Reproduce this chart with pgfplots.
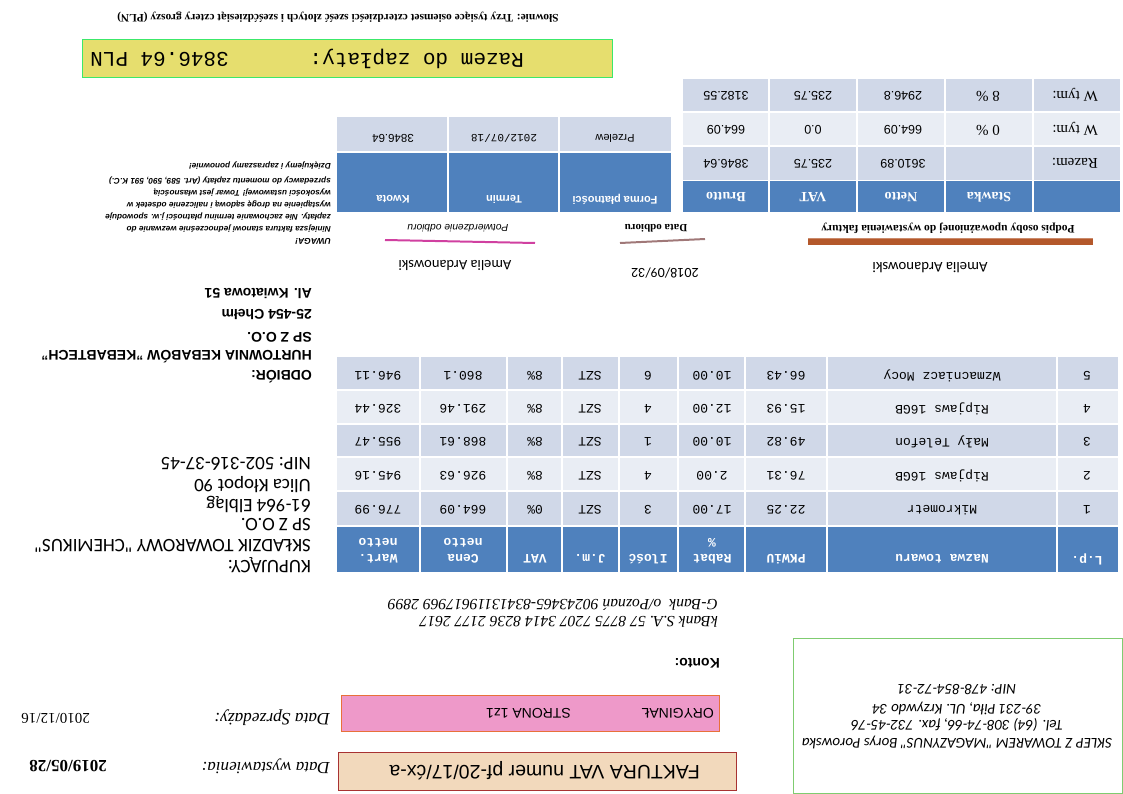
\documentclass[border=0pt]{standalone}
\usepackage{pgfplots}
\pgfplotsset{compat=1.18}
\usepackage{fontspec}
\setmainfont{Liberation Serif}
\setsansfont{Liberation Sans}
\setmonofont{Liberation Mono}
\newfontfamily\carl{Carlito}
\newcommand{\fs}[1]{\fontsize{#1bp}{#1bp}\selectfont}
\definecolor{hdr}{HTML}{4F81BD}
\definecolor{rowd}{HTML}{D0D8E8}
\definecolor{rowl}{HTML}{E9EDF4}
\definecolor{yel}{HTML}{E6DE6E}
\definecolor{grnb}{HTML}{3CE86A}
\definecolor{grnbox}{HTML}{7FCC70}
\definecolor{pinkc}{HTML}{EE99C9}
\definecolor{orgb}{HTML}{E8703A}
\definecolor{beigec}{HTML}{F2D9BC}
\definecolor{redb}{HTML}{A83232}
\definecolor{brownc}{HTML}{B4582B}
\definecolor{magl}{HTML}{D040A0}
\definecolor{greyl}{HTML}{A07878}
% text helpers: #1 font, #2 x, #3 y, #4 text  (rotated 180 degrees)
\newcommand{\TL}[4]{\node[rotate=180,anchor=west,inner sep=0pt,font=#1] at (axis cs:#2,#3) {#4};}
\newcommand{\TC}[4]{\node[rotate=180,anchor=center,inner sep=0pt,font=#1] at (axis cs:#2,#3) {#4};}
\newcommand{\TR}[4]{\node[rotate=180,anchor=east,inner sep=0pt,font=#1] at (axis cs:#2,#3) {#4};}
\begin{document}
\begin{tikzpicture}
\useasboundingbox (0,0) rectangle (1123bp,794bp);
\fill[white] (0,0) rectangle (1123bp,794bp);
\begin{axis}[hide axis, scale only axis, width=1123bp, height=794bp,
  xmin=0, xmax=1123, ymin=0, ymax=794, y dir=reverse, clip=false,
  at={(0,0)}, anchor=south west]

% ---------- top: słownie + razem do zapłaty
\TC{\bfseries\fs{11.4}}{338}{17}{Słownie: Trzy tysiące osiemset czterdzieści sześć złotych i sześćdziesiąt cztery groszy (PLN)}
\filldraw[fill=yel, draw=grnb, line width=1pt] (axis cs:82,40) rectangle (axis cs:612,77);
\TL{\ttfamily\fs{21}}{524}{59}{Razem do zapłaty:}
\TR{\ttfamily\fs{21}}{90}{59}{3846.64 PLN}

% ---------- summary table
\fill[rowd] (axis cs:683,79) rectangle (axis cs:1120,112);
\fill[rowl] (axis cs:683,112) rectangle (axis cs:1120,146);
\fill[rowd] (axis cs:683,146) rectangle (axis cs:1120,180);
\fill[hdr] (axis cs:683,181) rectangle (axis cs:1120,212);
\draw[white, line width=1.3pt] (axis cs:683,112) -- (axis cs:1120,112);
\draw[white, line width=1.3pt] (axis cs:683,146) -- (axis cs:1120,146);
\draw[white, line width=1.8pt] (axis cs:683,180.5) -- (axis cs:1120,180.5);
\draw[white, line width=1.3pt] (axis cs:769,79) -- (axis cs:769,212);
\draw[white, line width=1.3pt] (axis cs:857,79) -- (axis cs:857,212);
\draw[white, line width=1.3pt] (axis cs:945,79) -- (axis cs:945,212);
\draw[white, line width=1.3pt] (axis cs:1033,79) -- (axis cs:1033,212);
\TC{\bfseries\color{white}\fs{14}}{989}{197}{Stawka}
\TC{\bfseries\color{white}\fs{14}}{901}{197}{Netto}
\TC{\bfseries\color{white}\fs{14}}{813}{197}{VAT}
\TC{\bfseries\color{white}\fs{14}}{726}{197}{Brutto}
\TL{\fs{15}}{1098}{163}{Razem:}
\TC{\sffamily\fs{12.5}}{903}{164}{3610.89}
\TC{\sffamily\fs{12.5}}{813}{164}{235.75}
\TC{\sffamily\fs{12.5}}{726}{164}{3846.64}
\TL{\fs{15}}{1098}{129}{W tym:}
\TC{\fs{15}}{988}{130}{0 \%}
\TC{\sffamily\fs{12.5}}{903}{130}{664.09}
\TC{\sffamily\fs{12.5}}{813}{130}{0.0}
\TC{\sffamily\fs{12.5}}{726}{130}{664.09}
\TL{\fs{15}}{1098}{95}{W tym:}
\TC{\fs{15}}{988}{96}{8 \%}
\TC{\sffamily\fs{12.5}}{903}{96}{2946.8}
\TC{\sffamily\fs{12.5}}{813}{96}{235.75}
\TC{\sffamily\fs{12.5}}{726}{96}{3182.55}

% ---------- payment table
\fill[rowd] (axis cs:337,117) rectangle (axis cs:671,151);
\fill[hdr] (axis cs:337,153) rectangle (axis cs:671,212);
\draw[white, line width=1.3pt] (axis cs:448,117) -- (axis cs:448,212);
\draw[white, line width=1.3pt] (axis cs:559,117) -- (axis cs:559,212);
\TC{\sffamily\bfseries\color{white}\fs{11}}{615}{199}{Forma płatności}
\TC{\sffamily\bfseries\color{white}\fs{11}}{504}{199}{Termin}
\TC{\sffamily\bfseries\color{white}\fs{11}}{393}{199}{Kwota}
\TC{\sffamily\fs{11}}{615}{138}{Przelew}
\TC{\ttfamily\fs{11}}{504}{138}{2012/07/18}
\TC{\sffamily\fs{11.5}}{393}{138}{3846.64}

% ---------- UWAGA
\TL{\sffamily\bfseries\itshape\fs{8.5}}{331}{241}{UWAGA!}
\TL{\sffamily\bfseries\itshape\fs{8.2}}{331}{229}{Niniejsza faktura stanowi jednocześnie wezwanie do}
\TL{\sffamily\bfseries\itshape\fs{8.2}}{331}{217}{zapłaty. Nie zachowanie terminu płatności j.w. spowoduje}
\TL{\sffamily\bfseries\itshape\fs{8.2}}{331}{205}{wystąpienie na drogę sądową i naliczenie odsetek w}
\TL{\sffamily\bfseries\itshape\fs{8.2}}{331}{193}{wysokości ustawowej! Towar jest własnością}
\TL{\sffamily\bfseries\itshape\fs{8.2}}{331}{181}{sprzedawcy do momentu zapłaty (Art. 589, 590, 591 K.C.)}
\TL{\sffamily\bfseries\itshape\fs{8.2}}{331}{166}{Dziękujemy i zapraszamy ponownie!}

% ---------- signatures
\TC{\bfseries\fs{11.5}}{948}{228}{Podpis osoby upoważnionej do wystawienia faktury}
\fill[brownc] (axis cs:808,238) rectangle (axis cs:1093,245);
\draw[brownc!70!white, line width=1pt] (axis cs:808,238.5) -- (axis cs:1093,238.5);
\TC{\bfseries\fs{11}}{656}{228}{Data odbioru}
\draw[greyl, line width=2pt] (axis cs:620,243) -- (axis cs:705,239);
\TC{\sffamily\itshape\fs{10.2}}{458}{228}{Potwierdzenie odbioru}
\draw[magl, line width=2pt] (axis cs:385,240) -- (axis cs:535,243);
\TC{\carl\fs{14.8}}{930}{268}{Amelia Ardanowski}
\TC{\carl\fs{14}}{665}{273}{2018/09/32}
\TC{\carl\fs{14.5}}{455}{265}{Amelia Ardanowski}

% ---------- odbiorca
\TL{\sffamily\bfseries\fs{14}}{312}{377}{ODBIÓR:}
\TL{\sffamily\bfseries\fs{14}}{312}{357}{HURTOWNIA KEBABÓW "KEBABTECH"}
\TL{\sffamily\bfseries\fs{14}}{312}{337}{SP Z O.O.}
\TL{\sffamily\bfseries\fs{14}}{312}{315}{25-454 Chełm}
\TL{\sffamily\bfseries\fs{14}}{312}{294}{Al. Kwiatowa 51}

% ---------- main items table
\fill[rowd] (axis cs:337,357) rectangle (axis cs:1118,390);
\fill[rowl] (axis cs:337,390) rectangle (axis cs:1118,424);
\fill[rowd] (axis cs:337,424) rectangle (axis cs:1118,457);
\fill[rowl] (axis cs:337,457) rectangle (axis cs:1118,491);
\fill[rowd] (axis cs:337,491) rectangle (axis cs:1118,525);
\fill[hdr] (axis cs:337,527) rectangle (axis cs:1118,572);
\draw[white, line width=1.3pt] (axis cs:337,390) -- (axis cs:1118,390);
\draw[white, line width=1.3pt] (axis cs:337,424) -- (axis cs:1118,424);
\draw[white, line width=1.3pt] (axis cs:337,457) -- (axis cs:1118,457);
\draw[white, line width=1.3pt] (axis cs:337,491) -- (axis cs:1118,491);
\draw[white, line width=1.3pt] (axis cs:420,357) -- (axis cs:420,572);
\draw[white, line width=1.3pt] (axis cs:507,357) -- (axis cs:507,572);
\draw[white, line width=1.3pt] (axis cs:562,357) -- (axis cs:562,572);
\draw[white, line width=1.3pt] (axis cs:619,357) -- (axis cs:619,572);
\draw[white, line width=1.3pt] (axis cs:678,357) -- (axis cs:678,572);
\draw[white, line width=1.3pt] (axis cs:745,357) -- (axis cs:745,572);
\draw[white, line width=1.3pt] (axis cs:827,357) -- (axis cs:827,572);
\draw[white, line width=1.3pt] (axis cs:1057,357) -- (axis cs:1057,572);
% header
\TC{\ttfamily\bfseries\color{white}\fs{13}}{1087}{559}{L.p.}
\TC{\ttfamily\bfseries\color{white}\fs{13}}{942}{559}{Nazwa towaru}
\TC{\ttfamily\bfseries\color{white}\fs{13}}{786}{559}{PKWiU}
\TC{\ttfamily\bfseries\color{white}\fs{13}}{712}{559}{Rabat}
\TC{\ttfamily\bfseries\color{white}\fs{13}}{712}{543}{\%}
\TC{\ttfamily\bfseries\color{white}\fs{13}}{648}{559}{Ilość}
\TC{\ttfamily\bfseries\color{white}\fs{13}}{590}{559}{J.m.}
\TC{\ttfamily\bfseries\color{white}\fs{13}}{535}{559}{VAT}
\TC{\ttfamily\bfseries\color{white}\fs{13}}{463}{559}{Cena}
\TC{\ttfamily\bfseries\color{white}\fs{13}}{463}{543}{netto}
\TC{\ttfamily\bfseries\color{white}\fs{13}}{378}{559}{Wart.}
\TC{\ttfamily\bfseries\color{white}\fs{13}}{378}{543}{netto}
% row 1
\TC{\ttfamily\fs{13}}{1087}{510}{1}
\TC{\ttfamily\fs{13}}{942}{510}{Mikrometr}
\TC{\ttfamily\fs{13}}{786}{510}{22.25}
\TC{\ttfamily\fs{13}}{712}{510}{17.00}
\TC{\ttfamily\fs{13}}{648}{510}{3}
\TC{\ttfamily\fs{13}}{590}{510}{SZT}
\TC{\ttfamily\fs{13}}{535}{510}{0\%}
\TC{\ttfamily\fs{13}}{463}{510}{664.09}
\TC{\ttfamily\fs{13}}{378}{510}{776.99}
% row 2
\TC{\ttfamily\fs{13}}{1087}{476}{2}
\TC{\ttfamily\fs{13}}{942}{476}{Ripjaws 16GB}
\TC{\ttfamily\fs{13}}{786}{476}{76.31}
\TC{\ttfamily\fs{13}}{712}{476}{2.00}
\TC{\ttfamily\fs{13}}{648}{476}{4}
\TC{\ttfamily\fs{13}}{590}{476}{SZT}
\TC{\ttfamily\fs{13}}{535}{476}{8\%}
\TC{\ttfamily\fs{13}}{463}{476}{926.63}
\TC{\ttfamily\fs{13}}{378}{476}{945.16}
% row 3
\TC{\ttfamily\fs{13}}{1087}{442}{3}
\TC{\ttfamily\fs{13}}{942}{442}{Mały Telefon}
\TC{\ttfamily\fs{13}}{786}{442}{49.82}
\TC{\ttfamily\fs{13}}{712}{442}{10.00}
\TC{\ttfamily\fs{13}}{648}{442}{1}
\TC{\ttfamily\fs{13}}{590}{442}{SZT}
\TC{\ttfamily\fs{13}}{535}{442}{8\%}
\TC{\ttfamily\fs{13}}{463}{442}{868.61}
\TC{\ttfamily\fs{13}}{378}{442}{955.47}
% row 4
\TC{\ttfamily\fs{13}}{1087}{409}{4}
\TC{\ttfamily\fs{13}}{942}{409}{Ripjaws 16GB}
\TC{\ttfamily\fs{13}}{786}{409}{15.93}
\TC{\ttfamily\fs{13}}{712}{409}{12.00}
\TC{\ttfamily\fs{13}}{648}{409}{4}
\TC{\ttfamily\fs{13}}{590}{409}{SZT}
\TC{\ttfamily\fs{13}}{535}{409}{8\%}
\TC{\ttfamily\fs{13}}{463}{409}{291.46}
\TC{\ttfamily\fs{13}}{378}{409}{326.44}
% row 5
\TC{\ttfamily\fs{13}}{1087}{376}{5}
\TC{\ttfamily\fs{13}}{942}{376}{Wzmacniacz Mocy}
\TC{\ttfamily\fs{13}}{786}{376}{66.43}
\TC{\ttfamily\fs{13}}{712}{376}{10.00}
\TC{\ttfamily\fs{13}}{648}{376}{6}
\TC{\ttfamily\fs{13}}{590}{376}{SZT}
\TC{\ttfamily\fs{13}}{535}{376}{8\%}
\TC{\ttfamily\fs{13}}{463}{376}{860.1}
\TC{\ttfamily\fs{13}}{378}{376}{946.11}

% ---------- kupujący
\TL{\carl\fs{19}}{311}{565}{KUPUJĄCY:}
\TL{\carl\fs{19}}{311}{546}{SKŁADZIK TOWAROWY "CHEMIKUS"}
\TL{\carl\fs{19}}{311}{525}{SP Z O.O.}
\TL{\carl\fs{19}}{311}{504}{61-964 Elbląg}
\TL{\carl\fs{19}}{311}{485}{Ulica Kłopot 90}
\TL{\carl\fs{19}}{311}{464}{NIP: 502-316-37-45}

% ---------- konto
\TL{\sffamily\bfseries\fs{14}}{720}{663}{Konto:}
\TL{\itshape\fs{15.6}}{718}{622}{kBank S.A. 57 8775 7207 3414 8236 2177 2617}
\TL{\itshape\fs{15.6}}{718}{605}{G-Bank~~o/Poznań 90243465-83413119617969 2899}

% ---------- seller box
\filldraw[fill=white, draw=grnbox, line width=0.8pt] (axis cs:793,638) rectangle (axis cs:1122,793);
\TC{\carl\itshape\fs{15}}{957}{742}{SKLEP Z TOWAREM "MAGAZYNUS" Borys Porowska}
\TC{\carl\itshape\fs{15}}{957}{725}{Tel. (64) 308-74-66, fax. 732-45-76}
\TC{\carl\itshape\fs{15}}{957}{708}{39-231 Piła, UL. Krzywdo 34}
\TC{\carl\itshape\fs{15}}{957}{690}{NIP: 478-854-72-31}

% ---------- bottom left
\filldraw[fill=pinkc, draw=orgb, line width=0.8pt] (axis cs:341,695) rectangle (axis cs:719,731);
\TL{\sffamily\fs{14}}{714}{713}{ORYGINAŁ}
\TL{\sffamily\fs{14}}{571}{713}{STRONA 1z1}
\TL{\itshape\fs{17.4}}{330}{718}{Data Sprzedaży:}
\TL{\fs{15}}{90}{718}{2010/12/16}
\filldraw[fill=beigec, draw=redb, line width=0.8pt] (axis cs:338,752) rectangle (axis cs:736,790);
\TL{\sffamily\fs{19.5}}{700}{771}{FAKTURA VAT numer pf-20/17/ćx-a}
\TL{\itshape\fs{17}}{330}{766}{Data wystawienia:}
\TL{\bfseries\fs{17}}{107}{766}{2019/05/28}
\end{axis}
\end{tikzpicture}
\end{document}
